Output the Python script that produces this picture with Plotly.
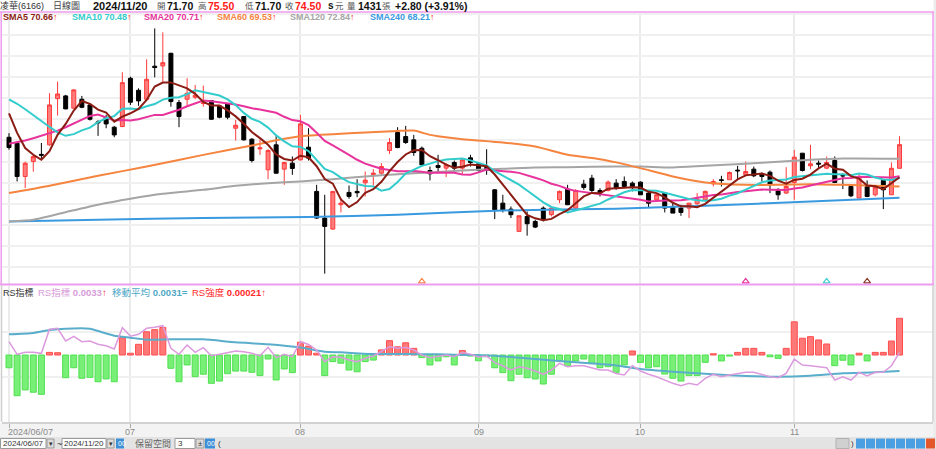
import pandas as pd
import plotly.graph_objects as go

W, H = 936, 449
FONT = "Liberation Sans, Noto Sans CJK TC, sans-serif"

# ---------------- data ----------------
holidays = ["2024-06-10", "2024-07-24", "2024-07-25", "2024-09-17",
            "2024-10-02", "2024-10-03", "2024-10-10", "2024-10-31"]
dates = [d.strftime("%Y/%m/%d") for d in
         pd.bdate_range("2024-06-07", "2024-11-20", freq="C", holidays=holidays)]

opens = [75.38, 74.67, 70.73, 72.50, 73.35, 74.48, 79.96, 80.28, 78.82, 79.88,
         79.21, 77.20, 77.75, 76.57, 76.65, 82.37, 80.95, 79.88, 83.80, 83.83,
         85.33, 79.49, 79.88, 80.12, 79.37, 79.72, 79.09, 79.33, 76.45, 77.83,
         75.15, 74.00, 71.52, 74.48, 71.60, 72.31, 72.70, 74.20, 68.96, 65.80,
         64.50, 67.38, 68.84, 68.96, 69.98, 70.97, 71.12, 73.81, 75.94, 75.46,
         75.07, 74.08, 71.44, 72.03, 71.72, 72.39, 71.72, 72.94, 72.23, 71.80,
         69.15, 67.57, 66.86, 64.22, 65.99, 65.40, 66.98, 66.20, 67.97, 69.23,
         66.98, 69.82, 70.53, 69.07, 69.07, 69.94, 70.14, 69.94, 70.06, 68.76,
         67.97, 68.76, 67.18, 66.98, 66.98, 67.50, 67.97, 69.86, 70.34, 70.34,
         71.48, 70.93, 71.60, 71.05, 71.24, 69.07, 68.76, 70.02, 73.49, 72.00,
         72.31, 71.72, 72.62, 70.85, 69.55, 68.17, 69.55, 68.56, 70.26, 68.56,
         71.70]
highs = [75.86, 74.87, 72.50, 73.30, 74.70, 80.60, 81.97, 80.40, 81.10, 80.28,
         79.40, 77.40, 78.03, 76.73, 83.08, 82.56, 81.18, 84.62, 88.28, 87.81,
         85.40, 79.80, 82.37, 81.58, 81.50, 79.80, 79.20, 79.41, 77.43, 77.91,
         75.27, 75.07, 73.96, 75.66, 72.47, 73.10, 78.03, 76.45, 69.74, 68.56,
         69.00, 68.17, 69.66, 70.41, 71.32, 71.60, 72.31, 75.27, 76.57, 76.73,
         75.66, 74.28, 71.91, 73.30, 72.31, 72.62, 72.90, 73.30, 72.39, 73.96,
         69.23, 68.56, 67.18, 66.07, 66.59, 65.60, 67.18, 67.18, 69.07, 69.74,
         69.23, 70.34, 70.93, 69.35, 70.26, 70.41, 70.73, 70.14, 70.14, 68.96,
         68.76, 68.76, 67.65, 67.38, 67.57, 68.76, 69.07, 70.41, 70.81, 71.32,
         71.99, 72.50, 71.91, 71.20, 71.44, 69.35, 71.83, 73.88, 73.49, 74.48,
         72.62, 73.10, 73.10, 71.12, 69.74, 71.05, 70.26, 69.55, 70.26, 72.39,
         75.50]
lows = [73.90, 70.14, 69.35, 71.30, 72.70, 74.36, 77.95, 78.70, 78.80, 78.82,
        77.36, 75.54, 76.45, 75.38, 76.57, 79.21, 79.10, 79.80, 82.48, 81.97,
        79.00, 76.57, 79.10, 79.88, 79.00, 77.43, 77.63, 77.51, 74.99, 74.99,
        72.39, 73.29, 70.41, 71.05, 69.74, 70.93, 72.62, 72.62, 65.70, 59.21,
        64.40, 66.47, 68.09, 68.28, 68.36, 69.63, 70.93, 73.41, 74.08, 74.60,
        73.18, 71.91, 70.26, 71.12, 70.65, 71.44, 71.05, 71.91, 71.32, 70.93,
        65.68, 66.47, 65.80, 64.22, 63.71, 64.61, 65.40, 66.00, 67.57, 67.38,
        66.79, 69.15, 68.76, 68.36, 68.96, 69.15, 69.35, 68.96, 68.56, 66.98,
        67.77, 66.47, 66.39, 66.07, 65.80, 67.38, 67.77, 69.55, 69.55, 70.34,
        70.41, 70.93, 70.65, 70.14, 68.76, 67.97, 68.68, 67.97, 71.32, 71.60,
        71.72, 71.60, 69.94, 69.23, 68.28, 68.17, 68.28, 68.36, 66.86, 68.56,
        71.70]
closes = [74.16, 70.73, 72.30, 73.09, 73.25, 79.21, 80.51, 78.74, 80.99, 78.93,
          77.51, 77.10, 76.96, 75.66, 81.85, 79.53, 79.69, 82.25, 83.64, 84.22,
          79.61, 77.83, 80.59, 80.35, 79.45, 77.51, 77.75, 77.75, 76.80, 75.07,
          72.62, 74.12, 73.80, 71.12, 72.39, 71.68, 76.96, 72.90, 65.80, 64.81,
          68.96, 67.57, 68.36, 68.80, 70.30, 71.12, 71.91, 74.75, 74.16, 74.75,
          73.57, 72.11, 71.05, 71.80, 72.11, 71.72, 72.70, 72.39, 71.44, 71.50,
          66.79, 66.71, 66.20, 66.07, 65.13, 64.73, 65.60, 66.98, 68.96, 67.38,
          69.07, 69.43, 69.07, 68.76, 70.06, 69.35, 69.55, 69.55, 68.56, 67.57,
          68.56, 66.98, 66.39, 66.47, 67.57, 68.05, 68.96, 70.14, 70.26, 71.20,
          71.40, 71.32, 70.81, 70.73, 69.74, 68.56, 69.55, 73.02, 71.44, 72.23,
          72.20, 72.39, 70.02, 70.80, 68.44, 70.73, 68.36, 69.47, 69.15, 71.70,
          74.50]
volume_last = 1431

# moving-average values before a full window is available
sma5_head = [78.2, 75.9, 74.1, 73.3]
sma10_head = [79.88, 79.35, 78.7, 78.05, 77.3, 76.6, 75.95, 75.55, 75.75]
sma20_head = [74.60, 74.79, 74.99, 75.27, 75.54, 75.86, 76.17, 76.57, 77.04, 77.51,
              77.91, 78.07, 77.75, 77.36, 77.43, 77.36, 77.51, 77.75, 78.03]

# long moving averages (trading-day index, value)
sma60_idx = [0, 5, 11, 17, 24, 30, 34, 37, 40, 44, 48, 50, 52, 53, 56, 61, 65, 69,
             73, 75, 78, 82, 86, 91, 95, 99, 103, 107, 110]
sma60_val = [68.76, 69.63, 70.81, 71.91, 73.29, 74.40, 75.19, 75.58, 75.74, 75.94,
             76.13, 76.17, 75.66, 75.50, 75.15, 74.75, 74.28, 73.30, 72.78, 72.40,
             71.72, 70.73, 70.02, 69.74, 69.74, 69.82, 69.74, 69.63, 69.53]
sma120_idx = [0, 3, 7, 11, 15, 19, 24, 28, 32, 36, 40, 44, 48, 52, 56, 61, 65, 69,
              75, 78, 82, 86, 91, 95, 99, 103, 110]
sma120_val = [65.40, 65.60, 66.50, 67.38, 68.09, 68.68, 69.15, 69.63, 69.94, 70.14,
              70.41, 70.73, 71.00, 71.20, 71.44, 71.64, 71.80, 71.83, 71.91, 71.91,
              71.80, 72.00, 72.23, 72.47, 72.70, 72.86, 72.84]
sma240_idx = [0, 11, 24, 37, 48, 61, 75, 86, 99, 110]
sma240_val = [65.40, 65.60, 65.80, 65.92, 66.20, 66.70, 66.90, 67.26, 67.77, 68.21]

sma_names = ["SMA5", "SMA10", "SMA20", "SMA60", "SMA120", "SMA240"]
sma_last = [70.66, 70.48, 70.71, 69.53, 72.84, 68.21]
sma_colors = ["#8b1c14", "#33cccc", "#e8339c", "#f5843f", "#a5a5a5", "#3a9ae0"]

# signal markers at the bottom of the price panel
signal_idx = [51, 91, 101, 106]
signal_colors = ["#f5874a", "#e8399f", "#3fd0d0", "#8b3a2a"]

# RS indicator panel
rs_strength_1e5 = [-7.3, -23.3, -20.0, -21.3, -22.5, 1.5, 1.3, -13.0, -7.3, -13.3,
                   -12.8, -15.3, -13.7, -15.3, 9.9, 1.0, 6.1, 13.3, 14.5, 15.8,
                   -7.6, -15.3, -5.7, -12.4, -11.0, -16.2, -14.9, -10.7, -9.2, -9.2,
                   -9.9, -11.8, -2.3, -14.3, -8.0, -10.1, 7.3, 5.1, 1.0, -11.8,
                   -3.8, -4.7, -8.6, -9.6, -3.8, -2.9, 2.9, 8.2, 4.7, 7.0,
                   3.8, -1.5, -5.7, -3.4, -1.0, -5.7, 2.5, -0.6, -3.3, -1.0,
                   -7.3, -10.1, -14.7, -11.0, -13.0, -13.7, -16.6, -11.0, -3.3, -6.3,
                   -3.4, -2.3, -4.7, -7.3, -6.7, -9.9, -5.7, 2.3, -4.2, -7.3,
                   -6.7, -10.9, -13.3, -14.9, -11.8, -11.8, -4.2, 0.7, -3.4, -0.6,
                   1.5, 3.8, 3.8, 1.5, -1.0, -1.9, 3.8, 19.0, 9.6, 10.5,
                   8.6, 6.3, -6.1, -3.0, -5.7, 1.0, -3.4, 1.5, 1.5, 8.0,
                   21.0]
rs_index_1e4 = [34.28, 32.87, 33.09, 33.09, 32.98, 35.67, 35.78, 34.36, 34.89, 34.28,
                34.36, 33.99, 33.83, 33.46, 35.85, 34.89, 35.11, 35.78, 35.89, 36.07,
                33.54, 32.87, 33.91, 33.09, 33.61, 32.71, 32.87, 33.09, 33.24, 33.16,
                32.98, 32.71, 33.65, 32.49, 32.87, 32.60, 34.28, 33.97, 33.35, 32.04,
                32.60, 32.53, 32.23, 32.04, 32.42, 32.68, 33.24, 33.72, 33.54, 33.65,
                33.35, 32.79, 32.49, 32.60, 32.79, 32.60, 33.09, 32.87, 32.57, 32.68,
                31.93, 31.59, 31.11, 31.48, 31.30, 31.00, 30.63, 31.11, 31.86, 31.48,
                31.59, 31.59, 31.37, 31.11, 31.11, 30.72, 30.55, 31.59, 31.00, 30.63,
                30.36, 29.99, 29.62, 29.35, 29.62, 29.43, 30.18, 30.63, 30.36, 30.55,
                30.70, 30.85, 30.85, 30.63, 30.36, 30.25, 30.74, 32.34, 31.67, 31.59,
                31.48, 31.37, 29.99, 30.36, 29.99, 30.85, 30.44, 30.85, 30.85, 31.59,
                33.09]
rs_ma_idx = [0, 3, 5, 7, 10, 11, 13, 15, 17, 20, 24, 28, 32, 36, 39, 41, 45, 49, 53,
             57, 60, 65, 70, 75, 78, 82, 87, 91, 95, 99, 103, 107, 110]
rs_ma_1e4 = [35.11, 35.26, 35.59, 35.74, 35.74, 35.48, 34.95, 34.73, 34.51, 34.55,
             34.55, 34.21, 33.99, 33.63, 33.16, 33.09, 32.90, 32.90, 32.87, 32.79,
             32.71, 32.34, 31.97, 31.62, 31.22, 30.92, 30.63, 30.44, 30.36, 30.47,
             30.74, 30.85, 31.00]

tick_dates = ["2024/06/07", "2024/07/01", "2024/08/01", "2024/09/02", "2024/10/01", "2024/11/01"]
tick_text = ["2024/06/07", "07", "08", "09", "10", "11"]

# ---------------- derived ----------------
rs_strength = [v / 1e5 for v in rs_strength_1e5]
rs_index = [v / 1e4 for v in rs_index_1e4]
rs_ma = [v / 1e4 for v in rs_ma_1e4]

cs = pd.Series(closes)
def sma(n, head):
    s = cs.rolling(n).mean().tolist()
    s[:len(head)] = head
    return s
sma5 = sma(5, sma5_head)
sma10 = sma(10, sma10_head)
sma20 = sma(20, sma20_head)

# ---------------- geometry helpers ----------------
def px(x):
    return x / W
def py(y):
    return 1 - y / H

XL, XR = 2, 933
PPU = (XR - XL) / 115.0   # pixels per trading day (~8.1)
x_range = [-(9 - XL) / PPU, (XR - 9) / PPU]

fig = go.Figure()

# ---------------- price panel ----------------
fig.add_trace(go.Candlestick(
    x=dates, open=opens, high=highs, low=lows, close=closes,
    xaxis="x", yaxis="y", whiskerwidth=0,
    increasing=dict(line=dict(color="#ff3a3a", width=1), fillcolor="#ff7c7c"),
    decreasing=dict(line=dict(color="#000000", width=1), fillcolor="#000000"),
    hoverinfo="skip", showlegend=False))

for idx, val, col in [(sma240_idx, sma240_val, sma_colors[5]),
                      (sma120_idx, sma120_val, sma_colors[4]),
                      (sma60_idx, sma60_val, sma_colors[3])]:
    fig.add_trace(go.Scatter(x=[dates[i] for i in idx], y=val, mode="lines",
                             line=dict(color=col, width=2, shape="spline", smoothing=0.6),
                             xaxis="x", yaxis="y", hoverinfo="skip", showlegend=False))
for series, col in [(sma20, sma_colors[2]), (sma10, sma_colors[1]), (sma5, sma_colors[0])]:
    fig.add_trace(go.Scatter(x=dates, y=series, mode="lines",
                             line=dict(color=col, width=2),
                             xaxis="x", yaxis="y", hoverinfo="skip", showlegend=False))

Y_LO, Y_HI = 60 - (284 - 267) / 8.44, 87.5 + (35 - 12) / 8.44
fig.add_trace(go.Scatter(x=[dates[i] for i in signal_idx], y=[Y_LO + 0.3] * len(signal_idx),
                         mode="markers", cliponaxis=False,
                         marker=dict(symbol="triangle-up-open", size=6, color=signal_colors,
                                     line=dict(width=1.2, color=signal_colors)),
                         xaxis="x", yaxis="y", hoverinfo="skip", showlegend=False))

# ---------------- RS panel ----------------
bar_fill = ["#ff7878" if v >= 0 else "#78f078" for v in rs_strength]
bar_edge = ["#ff4d4d" if v >= 0 else "#4fe04f" for v in rs_strength]
fig.add_trace(go.Bar(x=dates, y=rs_strength, width=0.74,
                     marker=dict(color=bar_fill, line=dict(color=bar_edge, width=1)),
                     xaxis="x2", yaxis="y2", hoverinfo="skip", showlegend=False))
fig.add_trace(go.Scatter(x=[dates[i] for i in rs_ma_idx], y=rs_ma, mode="lines",
                         line=dict(color="#5aaecb", width=2, shape="spline", smoothing=0.5),
                         xaxis="x2", yaxis="y3", hoverinfo="skip", showlegend=False))
fig.add_trace(go.Scatter(x=dates, y=rs_index, mode="lines",
                         line=dict(color="#dc9ade", width=1.5),
                         xaxis="x2", yaxis="y3", hoverinfo="skip", showlegend=False))

BAR_PPU = 36.7 / 21.0          # px per 1e-5
bar_range = [-(422 - 355) / BAR_PPU / 1e5, (355 - 286) / BAR_PPU / 1e5]
bar_grid = [(355 - 332) / BAR_PPU / 1e5, (355 - 377) / BAR_PPU / 1e5]
line_range = [(31 + (371 - 422) * 0.112) / 1e4, (31 + (371 - 286) * 0.112) / 1e4]

common_x = dict(type="category", categoryorder="array", categoryarray=dates,
                range=x_range, domain=[px(XL), px(XR)], tickvals=tick_dates,
                showgrid=True, gridcolor="#ebebeb", gridwidth=1.5, zeroline=False,
                fixedrange=True)

fig.update_layout(
    width=W, height=H, margin=dict(l=0, r=0, t=0, b=0),
    paper_bgcolor="white", plot_bgcolor="white", showlegend=False,
    bargap=0.26,
    xaxis=dict(**common_x, anchor="y", showticklabels=False, ticks="",
               rangeslider=dict(visible=False)),
    yaxis=dict(domain=[py(284), py(12)], range=[Y_LO, Y_HI], dtick=2.5, tick0=0,
               showticklabels=False, gridcolor="#f0f0f0", gridwidth=2, zeroline=False,
               anchor="x", fixedrange=True),
    xaxis2=dict(**common_x, anchor="y2", showticklabels=False, ticks="outside",
                ticklen=4, tickcolor="#aaaaaa", tickwidth=1, showline=True,
                linecolor="#d2d2d2", linewidth=2),
    yaxis2=dict(domain=[py(422), py(286)], range=bar_range, tickvals=bar_grid,
                showticklabels=False, gridcolor="#f0f0f0", gridwidth=2, zeroline=False,
                anchor="x2", fixedrange=True),
    yaxis3=dict(overlaying="y2", range=line_range, showgrid=False, showticklabels=False,
                zeroline=False, anchor="x2", fixedrange=True),
)

# ---------------- decoration shapes ----------------
shapes = []
def rect(x0, y0, x1, y1, fill, line=None, lw=1, layer="below"):
    shapes.append(dict(type="rect", xref="paper", yref="paper", x0=px(x0), x1=px(x1),
                       y0=py(y1), y1=py(y0), fillcolor=fill, layer=layer,
                       line=dict(color=line or fill, width=lw if line else 0)))
def hline(x0, x1, y, color, w=1):
    shapes.append(dict(type="line", xref="paper", yref="paper", x0=px(x0), x1=px(x1),
                       y0=py(y), y1=py(y), line=dict(color=color, width=w)))
def vline(x, y0, y1, color, w=1):
    shapes.append(dict(type="line", xref="paper", yref="paper", x0=px(x), x1=px(x),
                       y0=py(y0), y1=py(y1), line=dict(color=color, width=w)))

PINK = "#ee9cee"
rect(0, 423, W, 437, "#f3f3f3")
rect(933.5, 0, W, 437, "#ececec")
hline(0, 934, 12, PINK, 1.5)
hline(0, 934, 284.5, PINK, 2)
vline(1.2, 12, 285, PINK, 1.5)
vline(933, 12, 285, PINK, 1.5)
vline(1.5, 285, 422, "#cfcfcf", 1.5)
vline(933, 285, 422, "#cfcfcf", 1.5)

# toolbar
rect(0, 437, W, H, "#e3e3e3")
rect(0.5, 438.5, 46, 448.5, "white", "#9a9a9a", 1, "above")
rect(47, 439, 54, 448, "#dcdcdc", "#9a9a9a", 1, "above")
rect(62, 438.5, 106, 448.5, "white", "#9a9a9a", 1, "above")
rect(107, 439, 114, 448, "#dcdcdc", "#9a9a9a", 1, "above")
rect(116, 438.5, 124, 448.5, "#3d8fd8", None, 0, "above")
rect(175, 438.5, 195, 448.5, "white", "#9a9a9a", 1, "above")
rect(196, 439, 204, 448, "#dcdcdc", "#9a9a9a", 1, "above")
rect(205, 438.5, 215, 448.5, "#3d8fd8", None, 0, "above")
rect(836, 438.5, 849, 448.5, "#d0d0d0", "#b0b0b0", 1, "above")
icon_cols = ["#4a9fe3", "#4a9fe3", "#4a9fe3", "#4a9fe3", "#4a9fe3", "#4a9fe3", "#4a9fe3", "#e4572b"]
for k, c in enumerate(icon_cols):
    rect(856 + k * 10, 438.5, 865 + k * 10, 448.5, c, None, 0, "above")
fig.update_layout(shapes=shapes)

# ---------------- text ----------------
def txt(x, y, s, color, size=10, anchor="left"):
    fig.add_annotation(x=px(x), y=py(y), xref="paper", yref="paper", text=s,
                       showarrow=False, xanchor=anchor, yanchor="middle", borderpad=0,
                       font=dict(family=FONT, size=size, color=color))

RED = "#ff1a1a"
chg = closes[-1] - closes[-2]
pct = chg / closes[-2] * 100
hy = 5.5
LBL = "#555555"
txt(-1, hy, "凌華(6166)", "#333333", 9)
txt(52, hy, "日線圖", "#444444", 9)
txt(92, hy, f"<b>{dates[-1]}</b>", "#111111", 11)
txt(156, hy, "開", LBL, 8.5)
txt(166, hy, f"<b>{opens[-1]:.2f}</b>", "#111111", 10.5)
txt(197, hy, "高", LBL, 8.5)
txt(207, hy, f"<b>{highs[-1]:.2f}</b>", RED, 10.5)
txt(244, hy, "低", LBL, 8.5)
txt(254, hy, f"<b>{lows[-1]:.2f}</b>", "#111111", 10.5)
txt(284, hy, "收", LBL, 8.5)
txt(294, hy, f"<b>{closes[-1]:.2f}</b>", RED, 10.5)
txt(327, hy, "<b>s</b>", "#111111", 10)
txt(334, hy, "元", LBL, 8.5)
txt(346, hy, "量", LBL, 8.5)
txt(357, hy, f"<b>{volume_last}</b>", "#111111", 10.5)
txt(381, hy, "張", LBL, 8.5)
txt(394, hy, f"<b>{chg:+.2f} ({pct:+.2f}%)</b>", "#111111", 10.5)

sma_x = [2, 71, 143, 216, 289, 369]
for name, val, col, x in zip(sma_names, sma_last, sma_colors, sma_x):
    txt(x, 17.5, f"<b>{name} {val:.2f}</b><span style='color:{RED}'><b>↑</b></span>", col, 9)

rs_y = 292.5
txt(2, rs_y, "RS指標", "#333333", 9)
txt(37, rs_y, f"RS指標 <b>{rs_index[-1]:.4f}</b><span style='color:{RED}'><b>↑</b></span>", "#d79bd9", 9.5)
txt(111, rs_y, f"移動平均 <b>{rs_ma[-1]:.4f}</b><b>=</b>", "#4fa9c6", 9.5)
txt(191, rs_y, f"RS強度 <b>{rs_strength[-1]:.5f}</b><span style='color:{RED}'><b>↑</b></span>", "#ff2a2a", 9.5)

# x tick labels
for t, lab in zip(tick_dates, tick_text):
    i = dates.index(t)
    first = i == 0
    fig.add_annotation(x=i, y=py(432), xref="x2", yref="paper", text=lab, showarrow=False,
                       xanchor="left" if first else "center", yanchor="middle",
                       xshift=-3 if first else 0,
                       font=dict(family=FONT, size=9, color="#8a8a8a"))

# toolbar texts
txt(1.5, 443.5, dates[0], "#333333", 8)
txt(48, 443.5, "▾", "#333333", 7)
txt(55.5, 443.5, "~", "#333333", 9)
txt(63, 443.5, dates[-1], "#333333", 8)
txt(108, 443.5, "▾", "#333333", 7)
txt(116.5, 443.5, "00", "white", 7)
txt(134, 443.5, "保留空間", "#666666", 9)
txt(177, 443.5, "3", "#333333", 8)
txt(197, 443.5, "±", "#333333", 8)
txt(205.5, 443.5, "00", "white", 7)
txt(217, 443.5, "(", "#333333", 8)
txt(850, 443.5, ")", "#333333", 8)

fig.write_html("out.html", config={"displayModeBar": False},
               post_script="document.body.style.margin='0';document.body.style.padding='0';"
                           "document.body.style.overflow='hidden';")
